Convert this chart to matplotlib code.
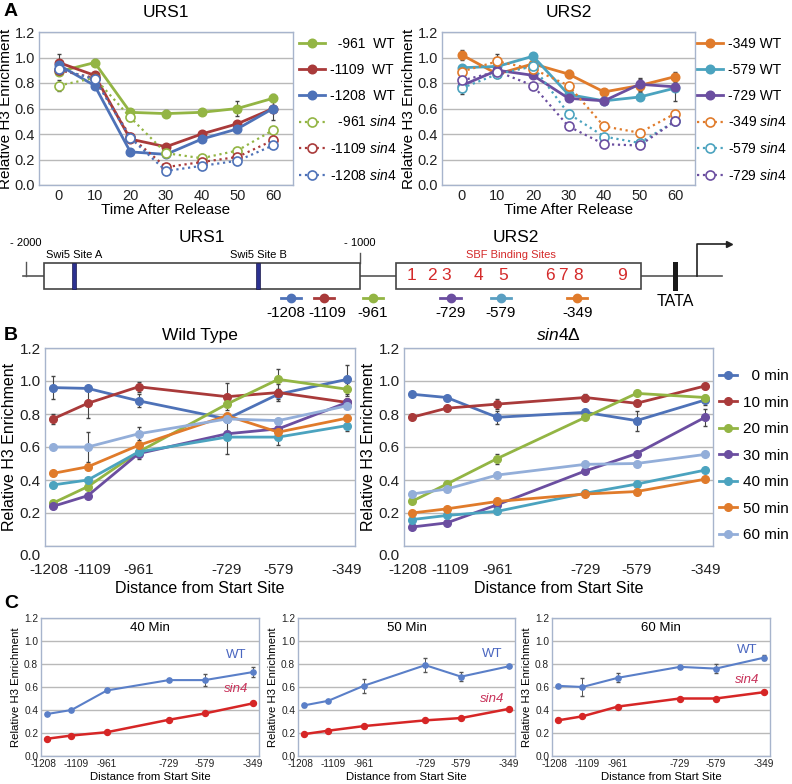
import numpy as np
import matplotlib
matplotlib.use("Agg")
import matplotlib.pyplot as plt
from matplotlib.patches import Rectangle
from matplotlib.transforms import ScaledTranslation

plt.rcParams["font.family"] = ["Liberation Sans", "DejaVu Sans"]
plt.rcParams["mathtext.fontset"] = "custom"
plt.rcParams["mathtext.rm"] = "Liberation Sans"
plt.rcParams["mathtext.it"] = "Liberation Sans:italic"

# ── colours ──────────────────────────────────────────────────────────────────
BLUE, RED, GREEN = "#4e72b8", "#a93a3a", "#93b544"
PURPLE, TEAL, ORANGE, LBLUE = "#6b4ea0", "#4ba3bf", "#e07b2b", "#93aed9"
EDGE, GRID = "#a7b4cc", "#b9b9b9"

# ── Panel A data (time course) ───────────────────────────────────────────────
times = [0, 10, 20, 30, 40, 50, 60]

urs1_labels = ["  -961  WT", "-1109  WT", "-1208  WT",
               "  -961 $\\it{sin4}$", "-1109 $\\it{sin4}$", "-1208 $\\it{sin4}$"]
urs1_colors = [GREEN, RED, BLUE, GREEN, RED, BLUE]
urs1_vals = [
    [0.89, 0.96, 0.57, 0.56, 0.57, 0.60, 0.68],
    [0.96, 0.86, 0.36, 0.30, 0.40, 0.48, 0.60],
    [0.94, 0.78, 0.26, 0.24, 0.36, 0.44, 0.60],
    [0.78, 0.84, 0.53, 0.25, 0.21, 0.27, 0.43],
    [0.90, 0.84, 0.38, 0.14, 0.18, 0.22, 0.35],
    [0.91, 0.83, 0.37, 0.11, 0.15, 0.19, 0.31],
]
urs1_err = [
    [0.02, 0.03, 0.03, 0.03, 0.01, 0.06, 0.03],
    [0.07, 0.03, 0.02, 0.01, 0.01, 0.01, 0.09],
    [0.02, 0.03, 0.01, 0.01, 0.01, 0.02, 0.02],
    [0.04, 0.02, 0.03, 0.01, 0.01, 0.01, 0.01],
    [0.01, 0.02, 0.01, 0.01, 0.01, 0.01, 0.01],
    [0.01, 0.01, 0.01, 0.01, 0.01, 0.01, 0.01],
]

urs2_labels = ["-349 WT", "-579 WT", "-729 WT",
               "-349 $\\it{sin4}$", "-579 $\\it{sin4}$", "-729 $\\it{sin4}$"]
urs2_colors = [ORANGE, TEAL, PURPLE, ORANGE, TEAL, PURPLE]
urs2_vals = [
    [1.02, 0.87, 0.95, 0.87, 0.73, 0.78, 0.85],
    [0.92, 0.93, 1.01, 0.71, 0.66, 0.69, 0.76],
    [0.78, 0.90, 0.86, 0.68, 0.66, 0.79, 0.77],
    [0.89, 0.97, 0.91, 0.78, 0.46, 0.41, 0.56],
    [0.76, 0.87, 0.93, 0.56, 0.38, 0.33, 0.50],
    [0.82, 0.89, 0.78, 0.46, 0.32, 0.31, 0.50],
]
urs2_err = [
    [0.04, 0.02, 0.02, 0.03, 0.01, 0.05, 0.04],
    [0.02, 0.02, 0.01, 0.01, 0.01, 0.01, 0.10],
    [0.07, 0.02, 0.02, 0.01, 0.01, 0.05, 0.02],
    [0.02, 0.06, 0.02, 0.02, 0.01, 0.01, 0.01],
    [0.01, 0.02, 0.01, 0.01, 0.01, 0.01, 0.01],
    [0.01, 0.01, 0.01, 0.01, 0.01, 0.01, 0.01],
]

# ── Diagram data ─────────────────────────────────────────────────────────────
primer_sites = [-1208, -1109, -961, -729, -579, -349]
primer_colors = [BLUE, RED, GREEN, PURPLE, "#5a9fc2", ORANGE]
sbf_labels = ["1", "2", "3", "4", "5", "6", "7", "8", "9"]
sbf_pos = [-847, -784, -743, -644, -572, -431, -392, -347, -216]
swi5_pos = [-1856, -1305]

# ── Panel B / C data (distance profiles) ─────────────────────────────────────
site_labels = ["-1208", "-1109", "-961", "-729", "-579", "-349"]
site_x = [-1208, -1106, -958, -700, -550, -349]

min_labels = ["  0 min", "10 min", "20 min", "30 min", "40 min", "50 min", "60 min"]
min_colors = [BLUE, RED, GREEN, PURPLE, TEAL, ORANGE, LBLUE]
wt_vals = [
    [0.96, 0.955, 0.88, 0.77, 0.92, 1.01],
    [0.77, 0.865, 0.965, 0.905, 0.93, 0.87],
    [0.26, 0.36, 0.57, 0.86, 1.01, 0.95],
    [0.24, 0.305, 0.56, 0.68, 0.71, 0.87],
    [0.37, 0.40, 0.57, 0.66, 0.66, 0.73],
    [0.44, 0.48, 0.61, 0.79, 0.69, 0.775],
    [0.60, 0.60, 0.68, 0.77, 0.76, 0.85],
]
wt_err = [
    [0.07, 0.01, 0.04, 0.01, 0.03, 0.09],
    [0.03, 0.09, 0.03, 0.08, 0.05, 0.02],
    [0.01, 0.01, 0.04, 0.01, 0.06, 0.04],
    [0.01, 0.01, 0.02, 0.12, 0.01, 0.02],
    [0.01, 0.01, 0.02, 0.01, 0.05, 0.03],
    [0.01, 0.01, 0.01, 0.01, 0.01, 0.01],
    [0.01, 0.09, 0.04, 0.01, 0.01, 0.01],
]
sin4_vals = [
    [0.92, 0.90, 0.78, 0.81, 0.76, 0.885],
    [0.78, 0.835, 0.86, 0.90, 0.865, 0.97],
    [0.27, 0.375, 0.53, 0.78, 0.925, 0.90],
    [0.115, 0.14, 0.25, 0.455, 0.56, 0.78],
    [0.16, 0.185, 0.21, 0.32, 0.375, 0.46],
    [0.20, 0.225, 0.27, 0.315, 0.33, 0.405],
    [0.315, 0.345, 0.43, 0.495, 0.50, 0.555],
]
sin4_err = [
    [0.01, 0.01, 0.04, 0.01, 0.06, 0.03],
    [0.01, 0.01, 0.03, 0.02, 0.01, 0.02],
    [0.01, 0.01, 0.03, 0.01, 0.01, 0.01],
    [0.01, 0.01, 0.01, 0.01, 0.01, 0.05],
    [0.01, 0.01, 0.01, 0.01, 0.01, 0.01],
    [0.01, 0.01, 0.01, 0.01, 0.01, 0.01],
    [0.01, 0.01, 0.01, 0.01, 0.01, 0.01],
]

c_titles = ["40 Min", "50 Min", "60 Min"]
c_wt = [
    [0.365, 0.40, 0.57, 0.66, 0.66, 0.73],
    [0.44, 0.48, 0.61, 0.79, 0.69, 0.78],
    [0.61, 0.60, 0.68, 0.775, 0.76, 0.855],
]
c_wt_err = [
    [0.01, 0.01, 0.01, 0.01, 0.05, 0.04],
    [0.01, 0.01, 0.06, 0.06, 0.04, 0.01],
    [0.01, 0.08, 0.04, 0.01, 0.04, 0.02],
]
c_sin4 = [
    [0.15, 0.178, 0.207, 0.315, 0.37, 0.458],
    [0.19, 0.22, 0.26, 0.31, 0.33, 0.41],
    [0.31, 0.345, 0.43, 0.50, 0.50, 0.555],
]
c_wt_label_y = [0.88, 0.885, 0.92]
c_sin4_label_y = [0.58, 0.50, 0.66]

W, H = 792, 784
fig = plt.figure(figsize=(W / 100, H / 100), dpi=100)


def px_axes(x0, y0, x1, y1):
    return fig.add_axes([x0 / W, 1 - y1 / H, (x1 - x0) / W, (y1 - y0) / H])


def style(ax, fs, pad=3):
    for s in ax.spines.values():
        s.set_color(EDGE)
        s.set_linewidth(1.0)
    ax.set_ylim(0, 1.2)
    ax.set_yticks(np.arange(0, 1.21, 0.2))
    ax.set_yticklabels([f"{v:.1f}" for v in np.arange(0, 1.21, 0.2)])
    ax.yaxis.grid(True, color=GRID, lw=1.0)
    ax.set_axisbelow(True)
    ax.tick_params(length=0, labelsize=fs, colors="#222222", pad=pad)


def shift_labels(labels, dx_px, dy_px=0):
    # move tick labels by a few pixels, like the hand-placed ones in the original
    for lab, dx in zip(labels, dx_px):
        lab.set_transform(lab.get_transform() +
                          ScaledTranslation(dx / 100, dy_px / 100, fig.dpi_scale_trans))


# ── Panel A ──────────────────────────────────────────────────────────────────
def plot_timecourse(ax, vals, errs, colors, labels, title, leg_x):
    xi = np.arange(len(times))
    handles = []
    for k, (v, e, c) in enumerate(zip(vals, errs, colors)):
        wt = k < 3
        ax.errorbar(xi, v, yerr=e, fmt="none", ecolor="#444444", elinewidth=0.8,
                    capsize=1.5, zorder=2)
        h, = ax.plot(xi, v, ls="-" if wt else ":", lw=2 if wt else 1.6, color=c,
                     marker="o", ms=6 if wt else 6.5,
                     mfc=c if wt else "white", mec=c, mew=1.2, zorder=3)
        handles.append(h)
    style(ax, 10.5)
    ax.set_xlim(-0.56, 6.56)
    ax.set_xticks(xi)
    ax.set_xticklabels(times)
    ax.set_xlabel("Time After Release", fontsize=11, labelpad=0)
    ax.set_ylabel("Relative H3 Enrichment", fontsize=11, labelpad=1)
    ax.set_title(title, fontsize=12.5, pad=11)
    fig.legend(handles, labels, loc="upper left",
               bbox_to_anchor=(leg_x / W, 1 - 37 / H), frameon=False,
               fontsize=10, handlelength=1.9, handletextpad=0.3,
               labelspacing=0.85, borderpad=0, borderaxespad=0)


axA1 = px_axes(39, 32, 293, 185)
plot_timecourse(axA1, urs1_vals, urs1_err, urs1_colors, urs1_labels, "URS1", 299)
axA2 = px_axes(442, 32, 695, 185)
plot_timecourse(axA2, urs2_vals, urs2_err, urs2_colors, urs2_labels, "URS2", 697)

# ── Diagram ──────────────────────────────────────────────────────────────────
axD = px_axes(0, 228, W, 330)
axD.set_xlim(-2077.8, 293.4)
axD.set_ylim(330, 228)
axD.axis("off")
LC = "#555555"
axD.plot([-2009, 84], [276, 276], color=LC, lw=1.2, zorder=1)
axD.plot([-2000, -2000], [262, 276], color=LC, lw=1.0)
axD.plot([-1000, -1000], [253, 263], color=LC, lw=1.0)
axD.add_patch(Rectangle((-1946, 263), 946, 26, fc="white", ec="#444444", lw=1.2, zorder=2))
axD.add_patch(Rectangle((-892, 263), 733, 26, fc="white", ec="#444444", lw=1.2, zorder=2))
for p in swi5_pos:
    axD.add_patch(Rectangle((p - 7, 263), 14, 26, fc="#2c3190", ec="#1a1a4a", lw=0.5, zorder=3))
axD.add_patch(Rectangle((-64, 262), 15, 29, fc="#1a1a1a", ec="none", zorder=3))
axD.plot([9, 9, 100], [276, 244, 244], color="#222222", lw=1.2)
axD.plot([104], [244], marker=">", ms=4, color="#222222")
axD.text(-2000, 243, "- 2000", fontsize=8, ha="center", va="center")
axD.text(-1000, 243, "- 1000", fontsize=8, ha="center", va="center")
axD.text(-1473, 237, "URS1", fontsize=12.5, ha="center", va="center")
axD.text(-533, 237, "URS2", fontsize=12.5, ha="center", va="center")
axD.text(swi5_pos[0], 255, "Swi5 Site A", fontsize=8, ha="center", va="center")
axD.text(swi5_pos[1], 255, "Swi5 Site B", fontsize=8, ha="center", va="center")
axD.text(-548, 255, "SBF Binding Sites", fontsize=8, ha="center", va="center", color="#d42a2a")
for lab, p in zip(sbf_labels, sbf_pos):
    axD.text(p, 276, lab, fontsize=12.5, ha="center", va="center", color="#d42a2a", zorder=4)
axD.text(-57, 301, "TATA", fontsize=11.5, ha="center", va="center")
label_shift = {-1208: -15, -1109: 12}
for p, c in zip(primer_sites, primer_colors):
    axD.plot([p - 30, p + 30], [298, 298], color=c, lw=2)
    axD.plot([p], [298], marker="o", ms=6, color=c)
    axD.text(p + label_shift.get(p, 0), 313, str(p), fontsize=11, ha="center", va="center")

# ── Panel B ──────────────────────────────────────────────────────────────────
def plot_profile(ax, vals, errs, title, legend=False):
    handles = []
    for v, e, c in zip(vals, errs, min_colors):
        ax.errorbar(site_x, v, yerr=e, fmt="none", ecolor="#444444", elinewidth=0.8,
                    capsize=1.5, zorder=2)
        h, = ax.plot(site_x, v, "-o", color=c, lw=2, ms=5.5, zorder=3)
        handles.append(h)
    style(ax, 11)
    ax.set_xlim(-1231, -326)
    ax.set_xticks(site_x)
    ax.set_xticklabels(site_labels)
    ax.tick_params(axis="x", pad=12)
    shift_labels(ax.get_xticklabels(), [-4, 4, 0, 0, 0, 0])
    shift_labels(ax.get_yticklabels()[:1], [0], -9)
    ax.set_xlabel("Distance from Start Site", fontsize=11.5, labelpad=3)
    ax.set_ylabel("Relative H3 Enrichment", fontsize=11.5, labelpad=2)
    ax.set_title(title, fontsize=12.5, pad=6)
    if legend:
        fig.legend(handles, min_labels, loc="upper left",
                   bbox_to_anchor=(719 / W, 1 - 369 / H), frameon=False,
                   fontsize=11, handlelength=1.2, handletextpad=0.4,
                   labelspacing=0.82, borderpad=0, borderaxespad=0)


axB1 = px_axes(45, 348, 355, 546)
plot_profile(axB1, wt_vals, wt_err, "Wild Type")
axB2 = px_axes(404, 348, 713, 546)
plot_profile(axB2, sin4_vals, sin4_err, "$\\it{sin4}\\Delta$", legend=True)

# ── Panel C ──────────────────────────────────────────────────────────────────
c_boxes = [(41, 259), (298, 515), (552, 770)]
for k, (x0, x1) in enumerate(c_boxes):
    ax = px_axes(x0, 618, x1, 756)
    ax.errorbar(site_x, c_wt[k], yerr=c_wt_err[k], fmt="none", ecolor="#555555",
                elinewidth=0.7, capsize=1.2, zorder=2)
    ax.plot(site_x, c_wt[k], "-o", color="#5a7fc8", lw=1.5, ms=3.8, zorder=3)
    ax.plot(site_x, c_sin4[k], "-o", color="#d62626", lw=1.8, ms=4.3, zorder=3)
    style(ax, 7.3, pad=2)
    ax.set_xlim(-1233, -324)
    ax.set_xticks(site_x)
    ax.set_xticklabels(site_labels)
    shift_labels(ax.get_xticklabels(), [-3, 5, 0, 0, 0, 0])
    ax.set_xlabel("Distance from Start Site", fontsize=8.2, labelpad=2)
    ax.set_ylabel("Relative H3 Enrichment", fontsize=8.2, labelpad=2)
    ax.text(0.5, 0.93, c_titles[k], transform=ax.transAxes, fontsize=9.5,
            ha="center", va="center")
    ax.text(-420, c_wt_label_y[k], "WT", fontsize=9.5, color="#4a66c0",
            ha="center", va="center")
    ax.text(-420, c_sin4_label_y[k], "sin4", fontsize=9.5, color="#c8325a",
            ha="center", va="center", style="italic")

# ── panel letters ────────────────────────────────────────────────────────────
for lab, y in [("A", 12), ("B", 336), ("C", 603)]:
    fig.text(4 / W, 1 - y / H, lab, fontsize=14, fontweight="bold", va="center")

fig.savefig("out.png", dpi=100)
